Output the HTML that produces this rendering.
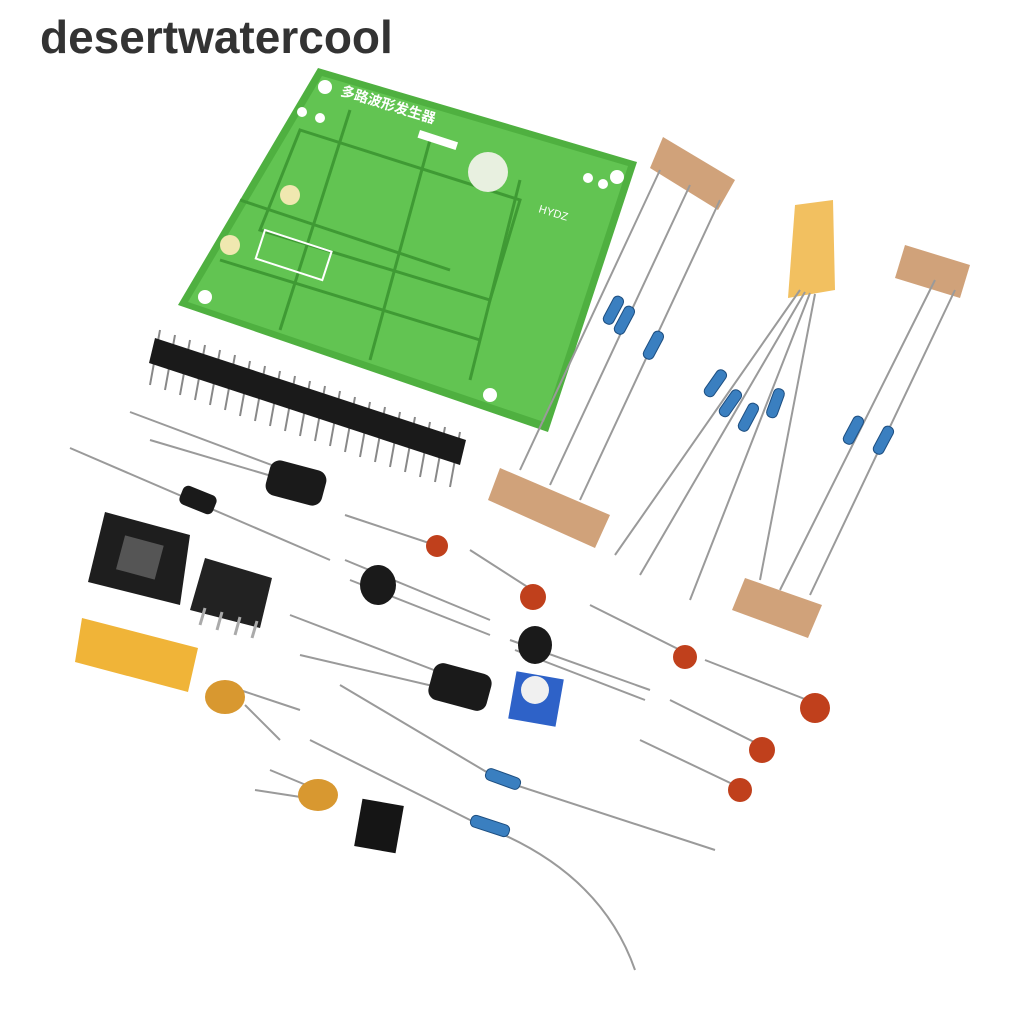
<!DOCTYPE html>
<html><head><meta charset="utf-8"><style>
html,body{margin:0;padding:0;background:#fff;width:1024px;height:1024px;overflow:hidden}
</style></head><body>
<svg width="1024" height="1024" viewBox="0 0 1024 1024" xmlns="http://www.w3.org/2000/svg">
<rect width="1024" height="1024" fill="#fff"/>
<text x="40" y="53" font-family="Liberation Sans, sans-serif" font-weight="bold" font-size="46" fill="#333">desertwatercool</text>

<!-- PCB -->
<polygon points="318,68 637,162 548,432 178,305" fill="#4fb040"/>
<polygon points="322,76 628,166 544,422 188,302" fill="#62c452"/>
<g stroke="#3f9a34" stroke-width="3" fill="none">
<path d="M300,130 L520,200 L490,300 L260,230 Z"/>
<path d="M240,200 L450,270 M220,260 L480,340 M350,110 L280,330 M430,140 L370,360 M520,180 L470,380"/>
</g>
<g fill="#fff">
<rect x="420" y="130" width="40" height="8" transform="rotate(18 420 130)"/>
<rect x="265" y="230" width="70" height="30" fill="none" stroke="#fff" stroke-width="2" transform="rotate(18 265 230)"/>
<circle cx="488" cy="172" r="20" fill="#e8f0e0"/>
<circle cx="302" cy="112" r="5"/><circle cx="320" cy="118" r="5"/>
<circle cx="588" cy="178" r="5"/><circle cx="603" cy="184" r="5"/>
<circle cx="230" cy="245" r="10" fill="#f0e8b0"/>
<circle cx="290" cy="195" r="10" fill="#f0e8b0"/>
</g>
<circle cx="325" cy="87" r="7" fill="#fff"/><circle cx="617" cy="177" r="7" fill="#fff"/>
<circle cx="205" cy="297" r="7" fill="#fff"/><circle cx="490" cy="395" r="7" fill="#fff"/>
<text x="340" y="95" font-family="Liberation Sans, Noto Sans CJK SC, sans-serif" font-size="14" font-weight="bold" fill="#fff" transform="rotate(17 340 95)">多路波形发生器</text>
<text x="538" y="212" font-family="Liberation Sans, sans-serif" font-size="11" fill="#fff" transform="rotate(17 538 212)">HYDZ</text>

<!-- header -->
<g stroke="#888" stroke-width="2">
<path d="M160,330 L150,385 M175,335 L165,390 M190,340 L180,395 M205,345 L195,400 M220,350 L210,405 M235,355 L225,410 M250,361 L240,416 M265,366 L255,421 M280,371 L270,426 M295,376 L285,431 M310,381 L300,436 M325,386 L315,441 M340,391 L330,446 M355,397 L345,452 M370,402 L360,457 M385,407 L375,462 M400,412 L390,467 M415,417 L405,472 M430,422 L420,477 M445,427 L435,482 M460,432 L450,487"/>
</g>
<polygon points="155,338 466,440 460,465 149,363" fill="#1a1a1a"/>

<!-- tape strips -->
<g fill="#d0a27a">
<polygon points="663,137 735,180 718,210 650,168"/>
<polygon points="500,468 610,515 595,548 488,500"/>
<polygon points="745,578 822,605 808,638 732,610"/>
<polygon points="905,245 970,265 960,298 895,278"/>
</g>
<polygon points="795,205 833,200 835,290 788,298" fill="#f2c060"/>
<polygon points="82,618 198,648 188,692 75,662" fill="#f0b438"/>

<!-- leads -->
<g stroke="#9a9a9a" stroke-width="2" fill="none">
<path d="M660,170 L520,470 M690,185 L550,485 M720,200 L580,500"/>
<path d="M800,290 L615,555 M805,292 L640,575 M810,293 L690,600 M815,294 L760,580"/>
<path d="M935,280 L780,590 M955,290 L810,595"/>
<path d="M130,412 L285,470 M150,440 L285,480 M70,448 L330,560"/>
<path d="M345,515 L435,545 M470,550 L540,595 M590,605 L690,655 M705,660 L820,705 M670,700 L770,750 M640,740 L745,790"/>
<path d="M290,615 L460,680 M300,655 L450,690 M345,560 L490,620 M350,580 L490,635 M510,640 L650,690 M515,650 L645,700 M340,685 L500,780 L715,850 M310,740 L480,825 Q600,870 635,970"/>
<path d="M240,690 L300,710 M245,705 L280,740 M270,770 L330,795 M255,790 L320,800"/>
</g>

<!-- resistors -->
<g fill="#3a7fc0" stroke="#1d4e80" stroke-width="1">
<rect x="598" y="305" width="30" height="11" rx="5" transform="rotate(-62 613 310)"/>
<rect x="609" y="315" width="30" height="11" rx="5" transform="rotate(-62 624 320)"/>
<rect x="638" y="340" width="30" height="11" rx="5" transform="rotate(-62 653 345)"/>
<rect x="700" y="378" width="30" height="11" rx="5" transform="rotate(-55 715 383)"/>
<rect x="715" y="398" width="30" height="11" rx="5" transform="rotate(-55 730 403)"/>
<rect x="733" y="412" width="30" height="11" rx="5" transform="rotate(-62 748 417)"/>
<rect x="760" y="398" width="30" height="11" rx="5" transform="rotate(-70 775 403)"/>
<rect x="838" y="425" width="30" height="11" rx="5" transform="rotate(-62 853 430)"/>
<rect x="868" y="435" width="30" height="11" rx="5" transform="rotate(-62 883 440)"/>
<rect x="485" y="773" width="36" height="12" rx="5" transform="rotate(20 503 779)"/>
<rect x="470" y="820" width="40" height="12" rx="5" transform="rotate(18 490 826)"/>
</g>

<!-- IC socket & chip -->
<polygon points="105,512 190,535 180,605 88,582" fill="#1e1e1e"/>
<rect x="120" y="540" width="40" height="35" fill="#555" transform="rotate(15 140 557)"/>
<polygon points="205,558 272,578 260,628 190,610" fill="#222"/>
<g stroke="#aaa" stroke-width="3"><path d="M205,608 L200,625 M222,612 L217,630 M240,617 L235,635 M257,621 L252,638"/></g>

<!-- transistors -->
<ellipse cx="378" cy="585" rx="18" ry="20" fill="#1a1a1a"/>
<ellipse cx="535" cy="645" rx="17" ry="19" fill="#1a1a1a"/>

<!-- electrolytic & diode -->
<rect x="267" y="465" width="58" height="36" rx="10" fill="#1a1a1a" transform="rotate(15 296 483)"/>
<rect x="430" y="668" width="60" height="38" rx="10" fill="#1a1a1a" transform="rotate(15 460 687)"/>
<rect x="180" y="490" width="36" height="20" rx="6" fill="#1a1a1a" transform="rotate(22 198 500)"/>

<!-- ceramic caps -->
<g fill="#c0401c">
<circle cx="437" cy="546" r="11"/><circle cx="533" cy="597" r="13"/>
<circle cx="685" cy="657" r="12"/><circle cx="815" cy="708" r="15"/>
<circle cx="762" cy="750" r="13"/><circle cx="740" cy="790" r="12"/>
</g>
<!-- tantalum -->
<g fill="#d89830"><ellipse cx="225" cy="697" rx="20" ry="17"/><ellipse cx="318" cy="795" rx="20" ry="16"/></g>

<!-- pot -->
<rect x="512" y="675" width="48" height="48" fill="#2e62c8" transform="rotate(10 536 699)"/>
<circle cx="535" cy="690" r="14" fill="#f0f0f0"/>
<!-- jumper -->
<rect x="358" y="802" width="42" height="48" fill="#151515" transform="rotate(10 379 826)"/>
</svg>
</body></html>
